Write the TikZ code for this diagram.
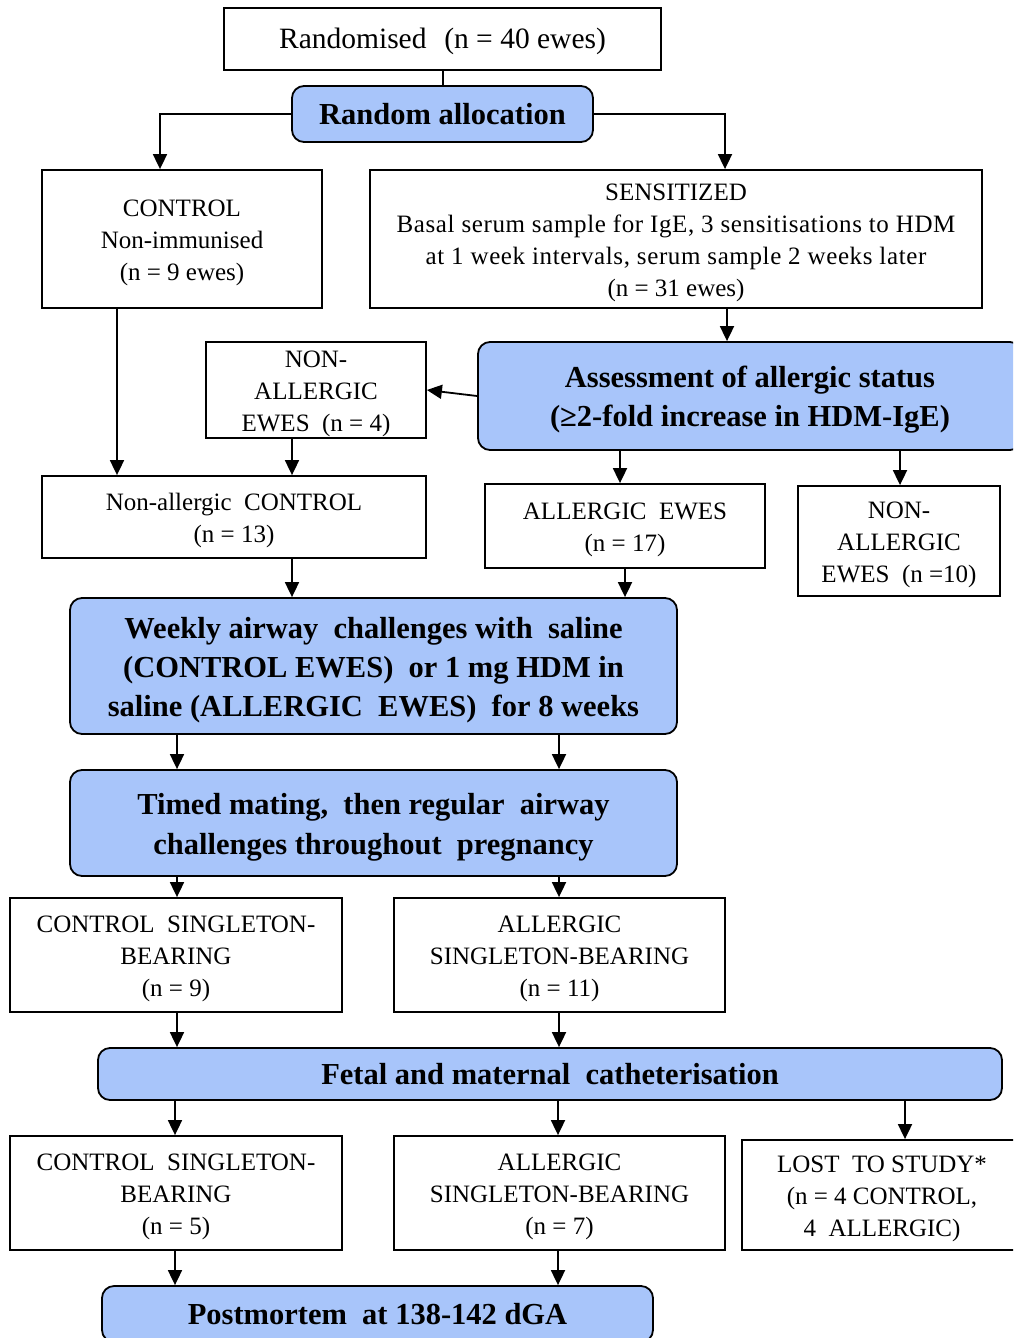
\documentclass[tikz,border=0pt]{standalone}
\usepackage{fontspec}
\setmainfont{Liberation Serif}
\usetikzlibrary{arrows.meta}
\definecolor{boxblue}{RGB}{168,197,250}
\newcommand\ps{\rule[-7pt]{0pt}{32pt}}
\newcommand\bst{\rule[-8.5pt]{0pt}{39pt}}
\newcommand\bsu{\rule[-9pt]{0pt}{40pt}}
\newcommand\rst{\rule[-7.25pt]{0pt}{34pt}}
\begin{document}
\begin{tikzpicture}[x=1pt,y=-1pt,
  every node/.style={inner sep=0pt, align=center},
  plain/.style={draw=black, line width=1.8pt, fill=white, font=\fontsize{25}{32}\selectfont},
  bluebox/.style={draw=black, line width=1.8pt, fill=boxblue, rounded corners=12pt, font=\fontsize{30.5}{39}\selectfont\bfseries},
  arr/.style={line width=1.8pt, -{Triangle[length=15pt,width=14pt]}},
  conn/.style={line width=2pt}]
\useasboundingbox (0,0) rectangle (1013,1338);
\fill[white] (0,0) rectangle (1013,1338);
\clip (0,0) rectangle (1013,1338);

\node[plain, minimum width=437pt, minimum height=62pt, font=\fontsize{29.5}{34}\selectfont] (rand) at (442.5,39) {\rst Randomised\hspace{0.6em}(n = 40 ewes)};
\node[bluebox, minimum width=301pt, minimum height=56pt] (ra) at (442.5,114) {Random allocation};
\node[plain, minimum width=280pt, minimum height=138pt] (ctrl) at (182,239) {\ps CONTROL\\\ps Non-immunised\\\ps (n = 9 ewes)};
\node[plain, minimum width=612pt, minimum height=138pt] (sens) at (676,239) {\ps SENSITIZED\\\ps{\addfontfeature{LetterSpace=2.5}Basal serum sample for IgE, 3 sensitisations to HDM}\\\ps{\addfontfeature{LetterSpace=2.5}at 1 week intervals, serum sample 2 weeks later}\\\ps (n = 31 ewes)};
\node[plain, minimum width=220pt, minimum height=96pt] (na4) at (316,390) {\ps NON-\\\ps ALLERGIC\\\ps EWES\enspace(n = 4)};
\node[bluebox, minimum width=544pt, minimum height=108pt] (assess) at (750,396) {\bst Assessment of allergic status\\\bst (≥2-fold increase in HDM-IgE)};
\node[plain, minimum width=384pt, minimum height=82pt] (nac) at (234,517) {\ps Non-allergic\enspace CONTROL\\\ps (n = 13)};
\node[plain, minimum width=280pt, minimum height=84pt] (ae) at (625,526) {\ps ALLERGIC\enspace EWES\\\ps (n = 17)};
\node[plain, minimum width=202pt, minimum height=110pt] (na10) at (899,541) {\ps NON-\\\ps ALLERGIC\\\ps EWES\enspace(n =10)};
\node[bluebox, minimum width=607pt, minimum height=136pt] (weekly) at (373.5,666) {\bst Weekly airway\enspace challenges with\enspace saline\\\bst (CONTROL EWES)\enspace or 1 mg HDM in\\\bst saline (ALLERGIC\enspace EWES)\enspace for 8 weeks};
\node[bluebox, minimum width=607pt, minimum height=106pt, font=\fontsize{30.5}{40}\selectfont\bfseries] (timed) at (373.5,823) {\bsu Timed mating,\enspace then regular\enspace airway\\\bsu challenges throughout\enspace pregnancy};
\node[plain, minimum width=332pt, minimum height=114pt] (cs1) at (176,955) {\ps CONTROL\enspace SINGLETON-\\\ps BEARING\\\ps (n = 9)};
\node[plain, minimum width=331pt, minimum height=114pt] (as1) at (559.5,955) {\ps ALLERGIC\\\ps SINGLETON-BEARING\\\ps (n = 11)};
\node[bluebox, minimum width=904pt, minimum height=52pt] (fetal) at (550,1074) {Fetal and maternal\enspace catheterisation};
\node[plain, minimum width=332pt, minimum height=114pt] (cs2) at (176,1193) {\ps CONTROL\enspace SINGLETON-\\\ps BEARING\\\ps (n = 5)};
\node[plain, minimum width=331pt, minimum height=114pt] (as2) at (559.5,1193) {\ps ALLERGIC\\\ps SINGLETON-BEARING\\\ps (n = 7)};
\node[plain, minimum width=280pt, minimum height=110pt] (lost) at (882,1195) {\ps LOST\enspace TO STUDY*\\\ps (n = 4 CONTROL,\\\ps 4\enspace ALLERGIC)};
\node[bluebox, minimum width=551pt, minimum height=56pt] (pm) at (377.5,1314) {Postmortem\enspace at 138-142 dGA};

\draw[conn] (rand.south) -- (ra.north);
\draw[arr] (ra.west) -| (160,0 |- ctrl.north);
\draw[arr] (ra.east) -| (725,0 |- sens.north);
\draw[arr] (117,0 |- ctrl.south) -- (117,0 |- nac.north);
\draw[arr] (727,0 |- sens.south) -- (727,0 |- assess.north);
\draw[arr] (assess.west) -- (na4.east);
\draw[arr] (292,0 |- na4.south) -- (292,0 |- nac.north);
\draw[arr] (620,0 |- assess.south) -- (620,0 |- ae.north);
\draw[arr] (900,0 |- assess.south) -- (900,0 |- na10.north);
\draw[arr] (292,0 |- nac.south) -- (292,0 |- weekly.north);
\draw[arr] (625,0 |- ae.south) -- (625,0 |- weekly.north);
\draw[arr] (177,0 |- weekly.south) -- (177,0 |- timed.north);
\draw[arr] (559,0 |- weekly.south) -- (559,0 |- timed.north);
\draw[arr] (177,0 |- timed.south) -- (177,0 |- cs1.north);
\draw[arr] (559,0 |- timed.south) -- (559,0 |- as1.north);
\draw[arr] (177,0 |- cs1.south) -- (177,0 |- fetal.north);
\draw[arr] (559,0 |- as1.south) -- (559,0 |- fetal.north);
\draw[arr] (175,0 |- fetal.south) -- (175,0 |- cs2.north);
\draw[arr] (558,0 |- fetal.south) -- (558,0 |- as2.north);
\draw[arr] (905,0 |- fetal.south) -- (905,0 |- lost.north);
\draw[arr] (175,0 |- cs2.south) -- (175,0 |- pm.north);
\draw[arr] (558,0 |- as2.south) -- (558,0 |- pm.north);
\end{tikzpicture}
\end{document}
